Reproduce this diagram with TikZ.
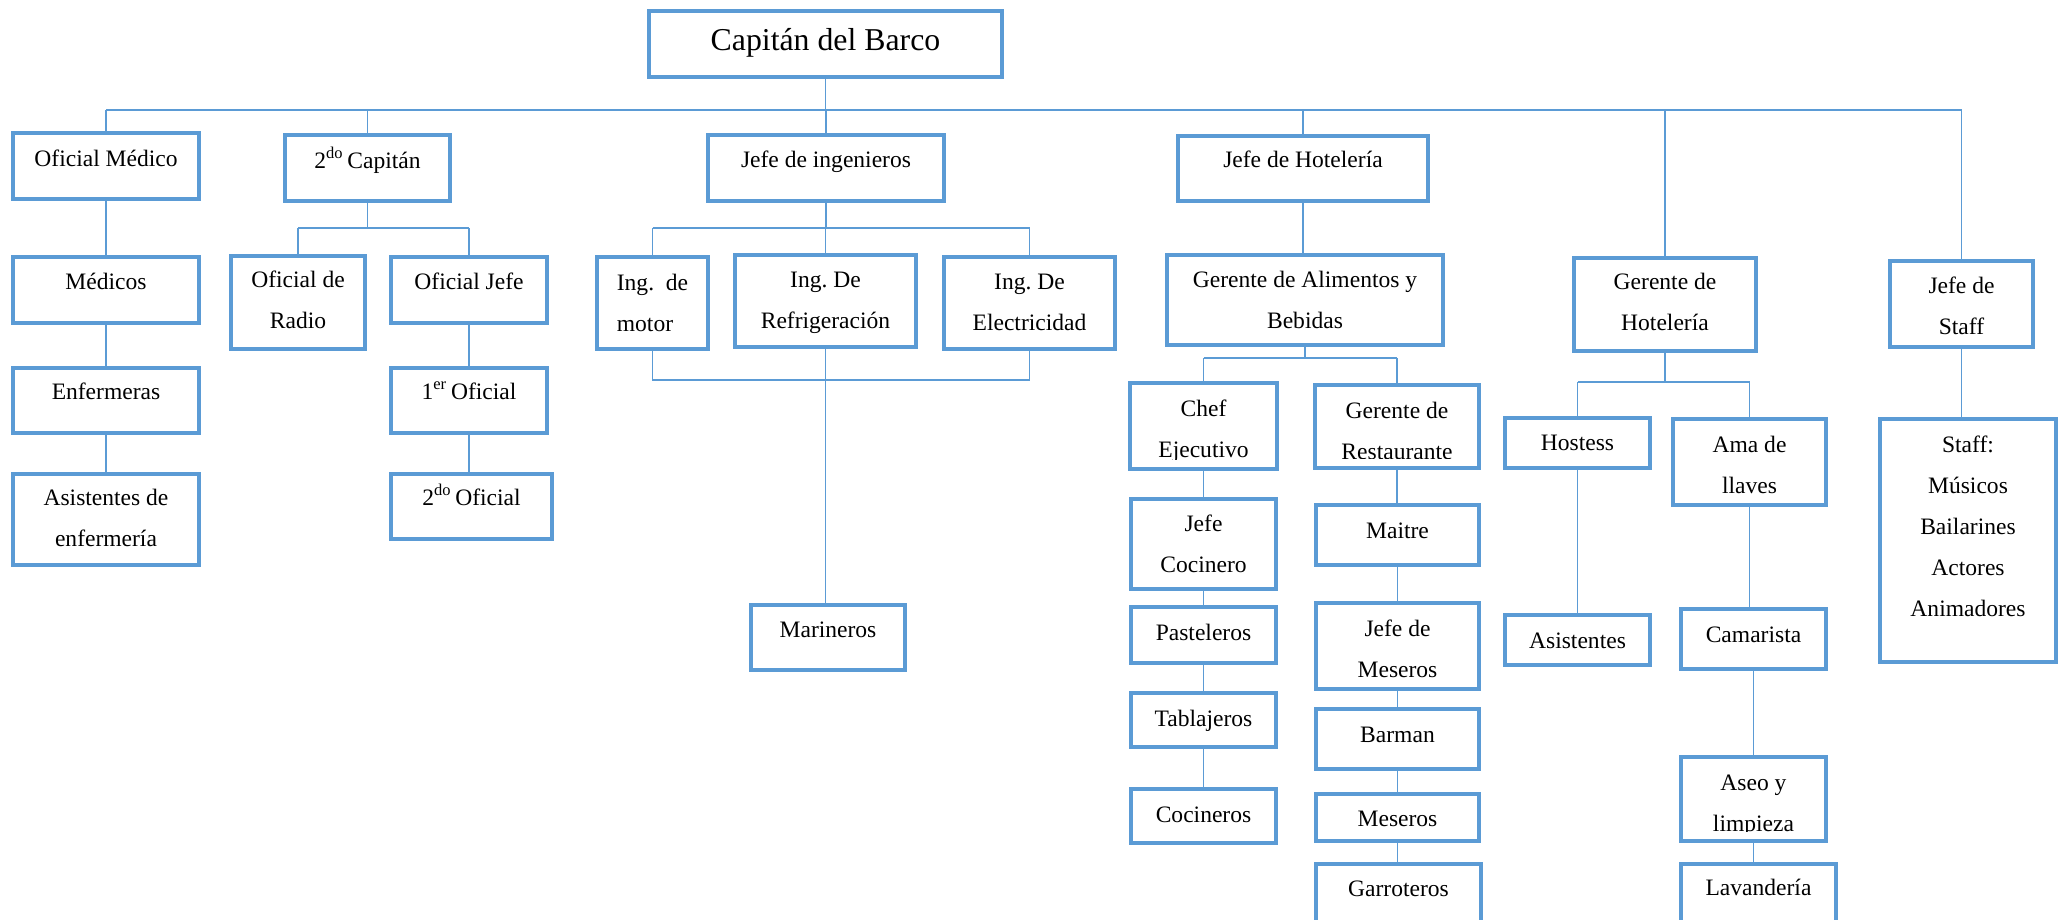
\documentclass[tikz,border=0pt]{standalone}
\usepackage{fontspec}
\setmainfont{Liberation Serif}
\frenchspacing
\definecolor{orgblue}{HTML}{5B9BD5}
\tikzset{
  box/.style={draw=orgblue, line width=0.085cm, rectangle, inner sep=0pt, outer sep=0pt},
  lbl/.style={inner sep=0pt, outer sep=0pt, anchor=base, text=black,
              font=\fontsize{13.4}{23.4}\selectfont},
  conn/.style={draw=orgblue, line width=0.026cm},
}
% \orgbox[col]{name}{x1}{y1}{x2}{y2}{first baseline}{text}
% text sits at the top of the frame and is cut off a little above the lower edge
\newcommand{\orgbox}[8][c]{%
  \begin{scope}
    \clip (#3,#4) rectangle (#5,#6-12);
    \node[lbl] (#2txt) at ({(#3+#5)/2},#7)
      {\begin{tabular}[t]{@{}#1@{}}#8\end{tabular}};
  \end{scope}
  \node[box, minimum width={(#5-#3-4.25)*0.02cm}, minimum height={(#6-#4-4.25)*0.02cm}]
    (#2) at ({(#3+#5)/2},{(#4+#6)/2}) {};
}
\begin{document}
\begin{tikzpicture}[x=0.02cm, y=-0.02cm]
\useasboundingbox (0,0) rectangle (2060,920);

% top
\orgbox{cap}{647}{9}{1004}{79}{50}{{\fontsize{18.1}{23.4}\selectfont Capitán del Barco}}

% first level
\orgbox{om}{11}{131}{201}{201}{166}{Oficial Médico}
\orgbox{sc}{283}{133}{452}{203}{168}{2\textsuperscript{do}\,Capitán}
\orgbox{ji}{706}{133}{946}{203}{167}{Jefe de ingenieros}
\orgbox{jh}{1176}{134}{1430}{203}{167}{Jefe de Hotelería}
\orgbox{gh}{1572}{256}{1758}{353}{289}{Gerente de\\Hotelería}
\orgbox{js}{1888}{259}{2035}{349}{293}{Jefe de\\Staff}

% medical branch
\orgbox{med}{11}{255}{201}{325}{289}{Médicos}
\orgbox{enf}{11}{366}{201}{435}{399}{Enfermeras}
\orgbox{ase}{11}{472}{201}{567}{505}{Asistentes de\\enfermería}

% deck officers
\orgbox{ora}{229}{254}{367}{351}{287}{Oficial de\\Radio}
\orgbox{oj}{389}{255}{549}{325}{289}{Oficial Jefe}
\orgbox{o1}{389}{366}{549}{435}{399}{1\textsuperscript{er}\,Oficial}
\orgbox{o2}{389}{472}{554}{541}{505}{2\textsuperscript{do}\,Oficial}

% engineering
\orgbox[l]{im}{595}{255}{710}{351}{290}{Ing.\ \ de\\motor}
\orgbox{ir}{733}{253}{918}{349}{287}{Ing. De\\Refrigeración}
\orgbox{ie}{942}{255}{1117}{351}{289}{Ing. De\\Electricidad}
\orgbox{mar}{749}{603}{907}{672}{637}{Marineros}

% food and beverage
\orgbox{gab}{1165}{253}{1445}{347}{287}{Gerente de Alimentos y\\Bebidas}
\orgbox{chef}{1128}{381}{1279}{471}{416}{Chef\\Ejecutivo}
\orgbox{jc}{1129}{497}{1278}{591}{531}{Jefe\\Cocinero}
\orgbox{pas}{1129}{605}{1278}{665}{640}{Pasteleros}
\orgbox{tab}{1129}{691}{1278}{749}{726}{Tablajeros}
\orgbox{coc}{1129}{787}{1278}{845}{822}{Cocineros}
\orgbox{gr}{1313}{383}{1481}{470}{418}{Gerente de\\Restaurante}
\orgbox{mai}{1314}{503}{1481}{567}{538}{Maitre}
\orgbox{jm}{1314}{601}{1481}{691}{636}{Jefe de\\Meseros}
\orgbox{bar}{1314}{707}{1481}{771}{742}{Barman}
\orgbox{mes}{1314}{792}{1481}{843}{826}{Meseros}
\orgbox{gar}{1314}{862}{1483}{925}{896}{Garroteros}

% hotel
\orgbox{hos}{1503}{416}{1652}{470}{450}{Hostess}
\orgbox{asi}{1503}{613}{1652}{667}{648}{Asistentes}
\orgbox{ama}{1671}{417}{1828}{507}{452}{Ama de\\llaves}
\orgbox{cam}{1679}{607}{1828}{671}{642}{Camarista}
\orgbox{asl}{1679}{755}{1828}{843}{790}{Aseo y\\limpieza}
\orgbox{lav}{1679}{862}{1838}{925}{895}{Lavandería}

% staff
\orgbox{staff}{1878}{417}{2058}{664}{452}{Staff:\\Músicos\\Bailarines\\Actores\\Animadores}

% bus levels
\coordinate (busA) at (0,110);
\coordinate (busB) at (0,228);
\coordinate (busD) at (0,358);
\coordinate (busE) at (0,380);
\coordinate (busF) at (0,382);

% captain to department heads
\draw[conn] (cap.south) -- (cap.south |- busA);
\draw[conn] (om.north |- busA) -- (js.north |- busA);
\foreach \p in {om,sc,ji,jh,gh,js} {\draw[conn] (\p.north |- busA) -- (\p.north);}

% second captain
\draw[conn] (sc.south) -- (sc.south |- busB);
\draw[conn] (ora.north |- busB) -- (oj.north |- busB);
\foreach \p in {ora,oj} {\draw[conn] (\p.north |- busB) -- (\p.north);}

% engineers
\draw[conn] (ji.south) -- (ji.south |- busB);
\draw[conn] (im.north |- busB) -- (ie.north |- busB);
\foreach \p in {im,ir,ie} {\draw[conn] (\p.north |- busB) -- (\p.north);}
\draw[conn] (im.south) -- (im.south |- busE) -- (ie.south |- busE) -- (ie.south);

% food and beverage manager
\draw[conn] (gab.south) -- (gab.south |- busD);
\draw[conn] (chef.north |- busD) -- (gr.north |- busD);
\foreach \p in {chef,gr} {\draw[conn] (\p.north |- busD) -- (\p.north);}

% hotel manager
\draw[conn] (gh.south) -- (gh.south |- busF);
\draw[conn] (hos.north |- busF) -- (ama.north |- busF);
\foreach \p in {hos,ama} {\draw[conn] (\p.north |- busF) -- (\p.north);}

% vertical chains
\foreach \a/\b in {om/med, med/enf, enf/ase, oj/o1, o1/o2, ir/mar, jh/gab,
                   chef/jc, jc/pas, pas/tab, tab/coc,
                   gr/mai, mai/jm, jm/bar, bar/mes, mes/gar,
                   hos/asi, ama/cam, cam/asl, asl/lav, js/staff}
  {\draw[conn] (\a.south) -- (\a.south |- \b.north);}
\end{tikzpicture}
\end{document}
